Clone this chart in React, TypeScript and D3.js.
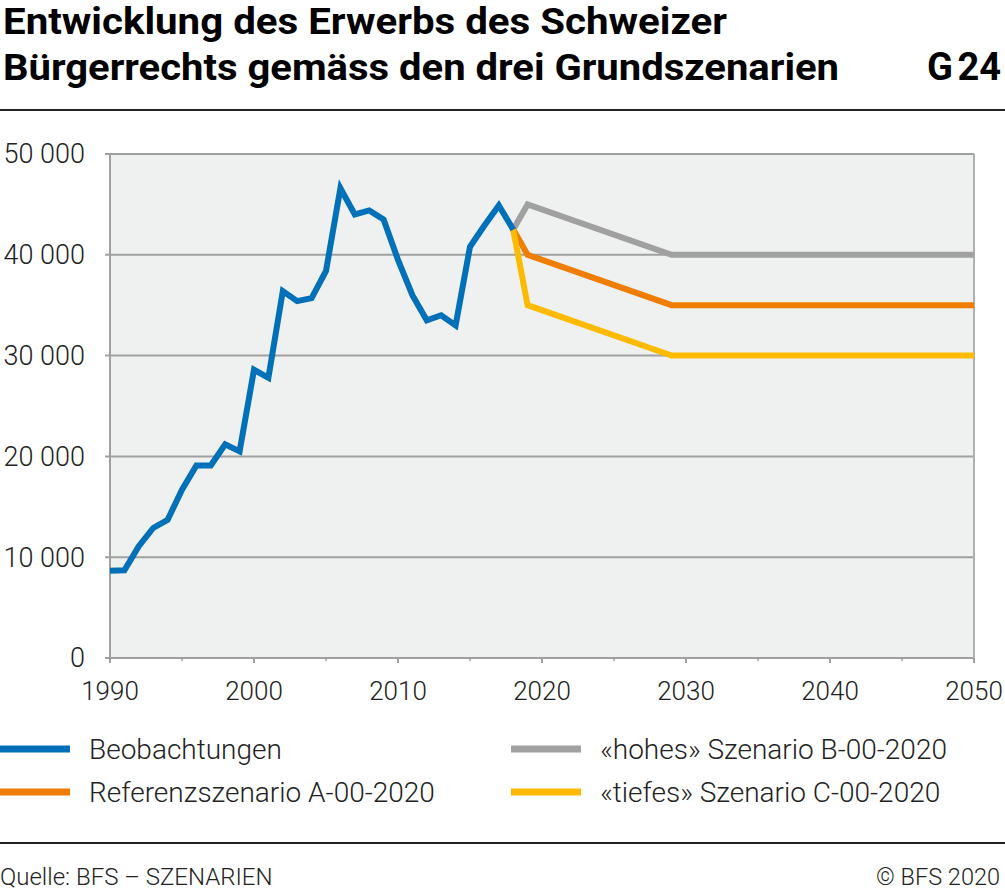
import React from "react";
import * as d3 from "d3";

const obsYears = [1990,1991,1992,1993,1994,1995,1996,1997,1998,1999,2000,2001,2002,2003,2004,2005,2006,2007,2008,2009,2010,2011,2012,2013,2014,2015,2016,2017,2018];
const obsValues = [8650,8700,11100,12900,13700,16700,19100,19100,21200,20500,28600,27800,36400,35400,35700,38400,46600,44000,44400,43500,39500,36000,33500,34000,33000,40800,42900,44900,42500];
const scenYears = [2018, 2019, 2029, 2050];
const scenB = [42500, 45000, 40000, 40000];
const scenA = [42500, 40000, 35000, 35000];
const scenC = [42500, 35000, 30000, 30000];
const yTicks = [0, 10000, 20000, 30000, 40000, 50000];
const xTicks = [1990, 2000, 2010, 2020, 2030, 2040, 2050];
const xMinorTicks = [1995, 2005, 2015, 2025, 2035, 2045];

const legendItems = [
  { label: "Beobachtungen", color: "#0070b8", col: 0, row: 0 },
  { label: "«hohes» Szenario B-00-2020", color: "#a0a0a0", col: 1, row: 0 },
  { label: "Referenzszenario A-00-2020", color: "#ef7d00", col: 0, row: 1 },
  { label: "«tiefes» Szenario C-00-2020", color: "#fcbb00", col: 1, row: 1 },
];

const FONT = "Roboto, 'Noto Sans', sans-serif";

export default function App() {
  const W = 1005, H = 891;
  const x = d3.scaleLinear().domain([1990, 2050]).range([110, 974]);
  const y = d3.scaleLinear().domain([0, 50000]).range([658, 154]);
  const line = d3.line<[number, number]>().x(d => x(d[0])).y(d => y(d[1]));
  const fmt = (v: number) => d3.format(",")(v).replace(/,/g, " ");
  const series = [
    { years: scenYears, vals: scenB, color: "#a0a0a0" },
    { years: scenYears, vals: scenA, color: "#ef7d00" },
    { years: scenYears, vals: scenC, color: "#fcbb00" },
    { years: obsYears, vals: obsValues, color: "#0070b8" },
  ];
  return (
    <svg width={W} height={H} style={{ position: "absolute", left: 0, top: 0, background: "#fff" }} fontFamily={FONT}>
      <text x={3} y={34} fontSize={37} fontWeight={700} fill="#000" textLength={724} lengthAdjust="spacingAndGlyphs">Entwicklung des Erwerbs des Schweizer</text>
      <text x={3} y={80} fontSize={37} fontWeight={700} fill="#000" textLength={836} lengthAdjust="spacingAndGlyphs">Bürgerrechts gemäss den drei Grundszenarien</text>
      <text x={953} y={80} fontSize={38} fontWeight={700} fill="#000" textAnchor="end">G</text>
      <text x={1001} y={80} fontSize={38} fontWeight={700} fill="#000" textAnchor="end">24</text>
      <line x1={0} x2={1005} y1={110} y2={110} stroke="#222" strokeWidth={2} />

      <rect x={110} y={154} width={864} height={504} fill="#eff0f0" />
      {yTicks.map(t => (
        <g key={t}>
          <line x1={105} x2={974} y1={y(t)} y2={y(t)} stroke="#a0a0a0" strokeWidth={2} />
          <text x={85} y={y(t)} dy="0.35em" fontSize={27} fontWeight={300} textAnchor="end" fill="#222">{t === 0 ? "0" : fmt(t)}</text>
        </g>
      ))}
      <line x1={974} x2={974} y1={154} y2={662} stroke="#b0b0b0" strokeWidth={2} />
      <line x1={110} x2={110} y1={154} y2={663} stroke="#a0a0a0" strokeWidth={2} />
      {xTicks.map(t => (
        <g key={t}>
          <line x1={x(t)} x2={x(t)} y1={658} y2={663} stroke="#a0a0a0" strokeWidth={2} />
          <text x={x(t)} y={700} fontSize={26} fontWeight={300} textAnchor="middle" fill="#222">{t}</text>
        </g>
      ))}
      {xMinorTicks.map(t => (
        <line key={t} x1={x(t)} x2={x(t)} y1={658} y2={661} stroke="#a0a0a0" strokeWidth={1.5} />
      ))}

      {series.map((s, i) => (
        <path key={i} d={line(s.years.map((yr, j) => [yr, s.vals[j]] as [number, number])) || ""}
          fill="none" stroke={s.color} strokeWidth={6} strokeLinejoin="miter" />
      ))}

      {legendItems.map((it, i) => {
        const lx = it.col === 0 ? 0 : 511;
        const ly = it.row === 0 ? 749 : 792;
        return (
          <g key={i}>
            <line x1={lx} x2={lx + 70} y1={ly} y2={ly} stroke={it.color} strokeWidth={7} />
            <text x={lx + 89} y={ly} dy="0.35em" fontSize={28} fontWeight={300} fill="#222">{it.label}</text>
          </g>
        );
      })}

      <line x1={0} x2={1005} y1={843} y2={843} stroke="#222" strokeWidth={2} />
      <text x={0} y={885} fontSize={24} fontWeight={300} fill="#222">Quelle: BFS – SZENARIEN</text>
      <text x={1000} y={885} fontSize={23.5} fontWeight={300} fill="#222" textAnchor="end">© BFS 2020</text>
    </svg>
  );
}
